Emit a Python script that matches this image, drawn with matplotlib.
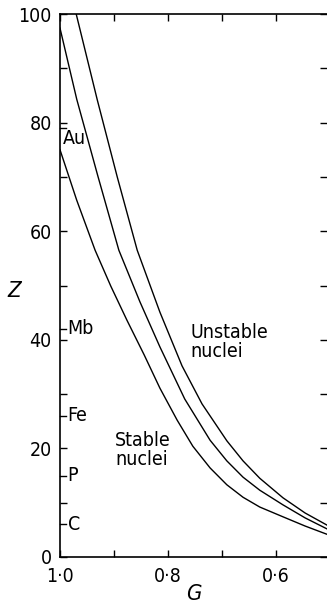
import matplotlib
matplotlib.use("Agg")
import matplotlib.pyplot as plt

# curves: G values and Z values
lower_g = [1.000, 0.969, 0.935, 0.906, 0.876, 0.844, 0.815, 0.783,
           0.754, 0.722, 0.691, 0.661, 0.630, 0.587, 0.546, 0.506]
lower_z = [75.0, 65.7, 56.5, 49.9, 43.6, 37.2, 31.1, 25.2,
           20.4, 16.4, 13.3, 11.0, 9.2, 7.4, 5.7, 4.2]

middle_g = [1.000, 0.969, 0.930, 0.891, 0.852, 0.815, 0.769,
            0.722, 0.691, 0.661, 0.630, 0.587, 0.546, 0.506]
middle_z = [97.4, 84.3, 70.2, 56.5, 47.0, 38.7, 29.1,
            21.5, 17.7, 14.7, 12.3, 9.6, 7.2, 5.2]

upper_g = [0.970, 0.931, 0.894, 0.857, 0.815, 0.774, 0.737,
           0.691, 0.661, 0.630, 0.587, 0.546, 0.506]
upper_z = [100.0, 84.2, 70.0, 56.5, 45.1, 35.2, 28.2,
           21.4, 17.7, 14.5, 10.9, 8.1, 5.9]

elements = ["Au", "Mb", "Fe", "P", "C"]
element_z = [79, 42, 26, 15, 6]
element_label_z = [77, 42, 26, 15, 6]

x_ticks = [1.0, 0.8, 0.6]
x_labels = ["1·0", "0·8", "0·6"]
y_ticks = [0, 20, 40, 60, 80, 100]

plt.rcParams['font.family'] = ['DejaVu Sans']
plt.rcParams['font.stretch'] = 'condensed'

fig = plt.figure(figsize=(3.27, 6.07), dpi=100)
ax = fig.add_axes([60 / 327, 50 / 607, 267 / 327, 543 / 607])

for g, z in [(lower_g, lower_z), (middle_g, middle_z), (upper_g, upper_z)]:
    ax.plot(g, z, color="black", linewidth=1.0)

ax.set_xlim(1.0, 0.5055)
ax.set_ylim(0, 100)

ax.set_xticks(x_ticks)
ax.set_xticklabels(x_labels)
ax.set_xticks([0.9, 0.7], minor=True)
ax.set_yticks(y_ticks)
ax.set_yticks([10, 30, 50, 70, 90], minor=True)

ax.tick_params(which="both", direction="in", top=True, right=True,
               length=5, width=1.0, labelsize=14)
ax.tick_params(axis="x", pad=7)
ax.tick_params(axis="y", pad=6)

for side in ["left", "bottom", "top"]:
    ax.spines[side].set_linewidth(1.2)
ax.spines["right"].set_visible(False)

# element markers along the Z axis
for name, z, lz in zip(elements, element_z, element_label_z):
    ax.plot([1.0, 0.9885], [z, z], color="black", linewidth=1.0, clip_on=False)
    lx = 0.9955 if name == "Au" else 0.986
    ax.text(lx, lz, name, fontsize=14, ha="left", va="center")

ax.text(0.759, 39.6, "Unstable\nnuclei", fontsize=14, ha="left", va="center",
        linespacing=1.0)
ax.text(0.898, 19.7, "Stable\nnuclei", fontsize=14, ha="left", va="center",
        linespacing=1.0)

ax.set_xlabel("G", fontsize=16, style="italic")
ax.xaxis.set_label_coords(0.5, -0.068)
ax.xaxis.label.set_va("center")
ax.set_ylabel("Z", fontsize=16, style="italic", rotation=0)
ax.yaxis.set_label_coords(-0.172, 0.49)
ax.yaxis.label.set_va("center")
ax.yaxis.label.set_ha("center")

fig.savefig("out.png", dpi=100)
